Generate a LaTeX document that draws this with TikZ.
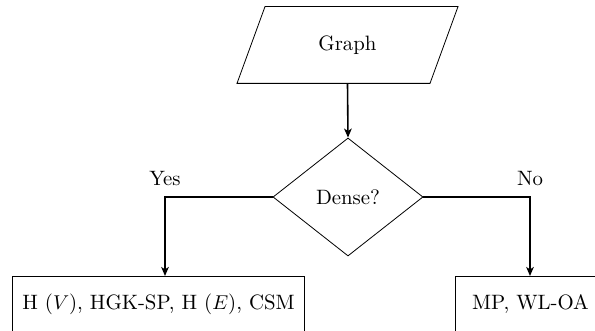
\documentclass[tikz,border=0pt]{standalone}
\usetikzlibrary{shapes.geometric,arrows.meta}
\begin{document}
\begin{tikzpicture}[x=0.5pt,y=-0.5pt,
  txt/.style={font=\fontsize{10.4}{12.5}\selectfont},
  base/.style={draw, line width=0.4pt, inner sep=0pt, txt},
  io/.style={txt, inner sep=0pt, minimum height=38pt},
  shapeline/.style={line width=0.4pt},
  decision/.style={base, diamond, minimum width=75pt, minimum height=59pt},
  result/.style={base, rectangle, minimum height=28pt, anchor=north west},
  flow/.style={line width=0.8pt, -{Stealth[length=4.5pt,width=3.8pt,inset=1.2pt]}},
  branch/.style={txt, inner sep=0pt}
]
\useasboundingbox (0,0) rectangle (595,331);
\clip (0,0) rectangle (595,331);
\node[io] (g) at (347.5,45) {Graph};
\draw[shapeline] ([xshift=-41.25pt]g.north) -- ([xshift=55.25pt]g.north)
  -- ([xshift=41.25pt]g.south) -- ([xshift=-55.25pt]g.south) -- cycle;
\node[decision] (d) at (348,197) {Dense?};
\node[result, inner xsep=5pt] (l) at (12,276) {H ($V$), HGK-SP, H ($E$), CSM};
\node[result, inner xsep=6.5pt, minimum width=75pt] (r) at (455,276) {MP, WL-OA};
\draw[flow] (g.south) -- (d.north);
\draw[flow] (d.west) -| node[branch, above=5pt] (yes) {Yes} ([xshift=76.5pt]l.north west);
\draw[flow] (d.east) -| node[branch, above=5pt] (no) {No} ([xshift=37.5pt]r.north west);
\end{tikzpicture}
\end{document}
